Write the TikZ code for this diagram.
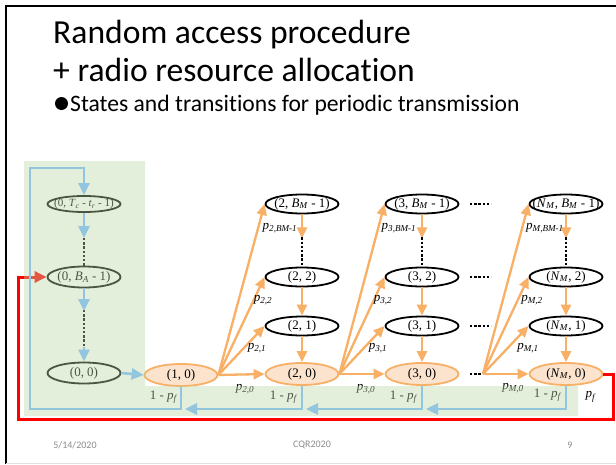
\documentclass[tikz,border=0pt]{standalone}
\usepackage{fontspec}
\setmainfont{Liberation Serif}
\newfontfamily\slidefont[Ligatures=NoCommon]{Carlito}
\usetikzlibrary{arrows.meta,calc,shapes.geometric}

\definecolor{orln}{HTML}{F8AF66}
\definecolor{orfill}{HTML}{FCE3CD}
\definecolor{blln}{HTML}{92C5DE}
\definecolor{grov}{HTML}{B9D7A5}
\definecolor{footgray}{HTML}{8C8C8C}

% zero-width text so every ellipse gets the same size
\newcommand\ct[1]{\makebox[0pt]{#1}}
% italic letter with italic subscript
\newcommand\vs[2]{\textit{#1}\textsubscript{\textit{#2}}}

\tikzset{
  st/.style={ellipse, draw=black, line width=1.8pt, fill=white,
    minimum width=73pt, minimum height=19pt, inner sep=0pt,
    font=\fontsize{13}{13}\selectfont},
  st0/.style={st, fill=none},
  stz/.style={st, draw=orln, fill=orfill, minimum height=22pt},
  oarr/.style={draw=orln, line width=2.3pt, -{Triangle[length=11pt,width=10pt]}},
  barr/.style={draw=blln, line width=2.6pt, -{Triangle[length=12pt,width=11pt]}},
  dots/.style={line width=2.4pt, dash pattern=on 2.4pt off 1.8pt},
  lbl/.style={font=\fontsize{13}{13}\selectfont, inner sep=0pt},
  slide/.style={font=\slidefont, inner sep=0pt, anchor=base west},
  foot/.style={font=\slidefont\fontsize{10}{10}\selectfont, text=footgray, inner sep=0pt},
}

\begin{document}
\begin{tikzpicture}[x=1pt,y=-1pt]
\useasboundingbox (0,0) rectangle (616,464);
\fill[white] (0,0) rectangle (616,464);

% slide frame
\draw[line width=2pt] (6,464) -- (6,6) -- (616,6);
\draw[line width=1pt, black!12] (6,463.5) -- (616,463.5);

% title and bullet
\node[slide, font=\slidefont\fontsize{33.6}{33.6}\selectfont] (t1) at (53,43.5) {Random access procedure};
\node[slide, font=\slidefont\fontsize{33.6}{33.6}\selectfont] (t2) at (53,81) {+ radio resource allocation};
\fill (61.5,103.5) circle (6.5pt);
\node[slide, font=\slidefont\fontsize{23.6}{23.6}\selectfont] (t3) at (70,111)
  {States and transitions for periodic transmission};

% footer
\node[foot] (f1) at (75,445) {5/14/2020};
\node[foot] (f2) at (312,445) {CQR2020};
\node[foot] (f3) at (570,445) {9};

% column 0 (backoff states)
\node[st0, minimum height=16pt, font=\fontsize{11}{11}\selectfont] (c0t) at (84,204)
  {\ct{(0, \vs{T}{c} - \vs{t}{r} - 1)}};
\node[st0, minimum height=21pt] (c0m) at (84,277) {\ct{(0, \vs{B}{A} - 1)}};
\node[st0, minimum height=21pt] (c0b) at (84,373) {\ct{(0, 0)}};

% transmission stages
\node[stz] (n1-0) at (181,375) {\ct{(1, 0)}};

\node[st]  (n2-t) at (302,204) {\ct{(2, \vs{B}{M} - 1)}};
\node[st]  (n2-2) at (302,277) {\ct{(2, 2)}};
\node[st]  (n2-1) at (302,326) {\ct{(2, 1)}};
\node[stz] (n2-0) at (302,374) {\ct{(2, 0)}};

\node[st]  (n3-t) at (422,204) {\ct{(3, \vs{B}{M} - 1)}};
\node[st]  (n3-2) at (422,277) {\ct{(3, 2)}};
\node[st]  (n3-1) at (422,326) {\ct{(3, 1)}};
\node[stz] (n3-0) at (422,374) {\ct{(3, 0)}};

\node[st]  (nM-t) at (566,204) {\ct{(\vs{N}{M}, \vs{B}{M} - 1)}};
\node[st]  (nM-2) at (566,277) {\ct{(\vs{N}{M}, 2)}};
\node[st]  (nM-1) at (566,326) {\ct{(\vs{N}{M}, 1)}};
\node[stz] (nM-0) at (566,374) {\ct{(\vs{N}{M}, 0)}};

% failure path back into backoff
\coordinate (rA) at (613,419);
\coordinate (rB) at (18,419);
\draw[red, line width=3pt, -{Triangle[length=12pt,width=11pt]}]
  (nM-0.east) -| (rA) -- (rB) -- (rB |- c0m.west) -- (c0m.west);
\node[lbl] (pf) at (591,397) {\vs{p}{f}};

% column 0 dotted gaps
\coordinate (a1) at (84,238);
\coordinate (a2) at (84,311);
\coordinate (a3) at (84,347);
\draw[dots] (a1) -- (c0m.north);
\draw[dots] ([yshift=1pt]a2) -- (a3);

% labels on the feedback strip
\node[lbl] (q2) at (245,389) {\vs{p}{2,0}};
\node[lbl] (q3) at (366,389) {\vs{p}{3,0}};
\node[lbl] (qM) at (513,388) {\vs{p}{M,0}};
\node[lbl, anchor=east] (s1) at (178,397) {1 - \vs{p}{f}};
\node[lbl, anchor=east] (s2) at (298,397) {1 - \vs{p}{f}};
\node[lbl, anchor=east] (s3) at (418,397) {1 - \vs{p}{f}};
\node[lbl, anchor=east] (s4) at (562,395) {1 - \vs{p}{f}};

% translucent green backdrop of the backoff part
\fill[grov, fill opacity=0.4] (24,161) -- (145,161) -- (145,386) -- (578,386)
  -- (578,416) -- (24,416) -- cycle;

% backoff countdown
\coordinate (lb) at (30,409);
\coordinate (lt) at (30,168);
\draw[barr] (c0t.south) -- (a1);
\draw[barr] (c0m.south) -- (a2);
\draw[barr] (a3) -- (c0b.north);
\draw[barr] (c0b.east) -- (n1-0.west);

% success feedback lines
\draw[barr] (n1-0.south) |- (lb) -- (lt) -| (c0t.north);
\coordinate (j1) at (n1-0.south |- lb);
\coordinate (j2) at (n2-0.south |- lb);
\coordinate (j3) at (n3-0.south |- lb);
\draw[barr] (n2-0.south) |- ([xshift=4pt]j1);
\draw[barr] (n3-0.south) |- ([xshift=4pt]j2);
\draw[barr] (nM-0.south) |- ([xshift=4pt]j3);

% columns of each stage
\foreach \c in {2,3,M} {
  \path (n\c-t.south) ++(0,24) coordinate (d\c);
  \draw[oarr] (n\c-t.south) -- (d\c);
  \draw[dots] ([yshift=1pt]d\c) -- (n\c-2.north);
  \draw[oarr] (n\c-2.south) -- (n\c-1.north);
  \draw[oarr] (n\c-1.south) -- (n\c-0.north);
}

% omitted stages
\foreach \y in {204,277,326,374} \draw[dots] (470,\y) -- (491,\y);
\coordinate (fM) at (483,374);

% fans into the next stage
\foreach \c/\src in {2/n1-0.east, 3/n2-0.east, M/fM} {
  \foreach \r in {t,2,1,0} \draw[oarr] (\src) -- (n\c-\r.west);
}

% transition probabilities
\node[lbl] (l2t) at (280,228) {\vs{p}{2,BM-1}};
\node[lbl] (l22) at (263,300) {\vs{p}{2,2}};
\node[lbl] (l21) at (257,348) {\vs{p}{2,1}};
\node[lbl] (l3t) at (399,228) {\vs{p}{3,BM-1}};
\node[lbl] (l32) at (383,300) {\vs{p}{3,2}};
\node[lbl] (l31) at (378,348) {\vs{p}{3,1}};
\node[lbl] (lMt) at (545,228) {\vs{p}{M,BM-1}};
\node[lbl] (lM2) at (532,300) {\vs{p}{M,2}};
\node[lbl] (lM1) at (528,348) {\vs{p}{M,1}};
\end{tikzpicture}
\end{document}
